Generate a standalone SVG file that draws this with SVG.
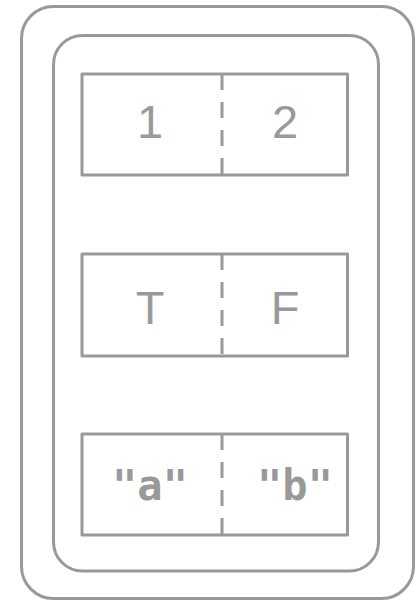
<svg xmlns="http://www.w3.org/2000/svg" width="416" height="600" viewBox="0 0 416 600">
<style>
.frame{fill:none;stroke:#999;stroke-width:3}
.box{fill:#fff;stroke:#999;stroke-width:3;stroke-linejoin:round}
.div{stroke:#999;stroke-width:3;stroke-dasharray:16 12}
.t{font-family:"Liberation Sans",Arial,sans-serif;font-size:47px;fill:#999;text-anchor:middle}
.s{font-family:"DejaVu Sans Mono",monospace;font-weight:bold;font-size:42px;fill:#999;text-anchor:middle}
</style>
<rect x="0" y="0" width="416" height="600" fill="#fff"/>
<g id="outer"><rect class="frame" x="21.5" y="6.5" width="392" height="592" rx="32"/></g>
<g id="inner"><rect class="frame" x="53.5" y="35.5" width="325" height="535.5" rx="29"/></g>
<g id="row1">
<rect class="box" x="82" y="74" width="265.5" height="101"/>
<line class="div" x1="222" y1="74" x2="222" y2="175"/>
<text class="t" x="150" y="138">1</text>
<text class="t" x="285" y="138">2</text>
</g>
<g id="row2">
<rect class="box" x="82" y="254" width="265.5" height="102"/>
<line class="div" x1="222" y1="254" x2="222" y2="356"/>
<text class="t" x="150" y="324">T</text>
<text class="t" x="285" y="324">F</text>
</g>
<g id="row3">
<rect class="box" x="82" y="434" width="265.5" height="101"/>
<line class="div" x1="222" y1="434" x2="222" y2="535"/>
<text class="s" x="150" y="500">"a"</text>
<text class="s" x="295" y="500">"b"</text>
</g>
</svg>
